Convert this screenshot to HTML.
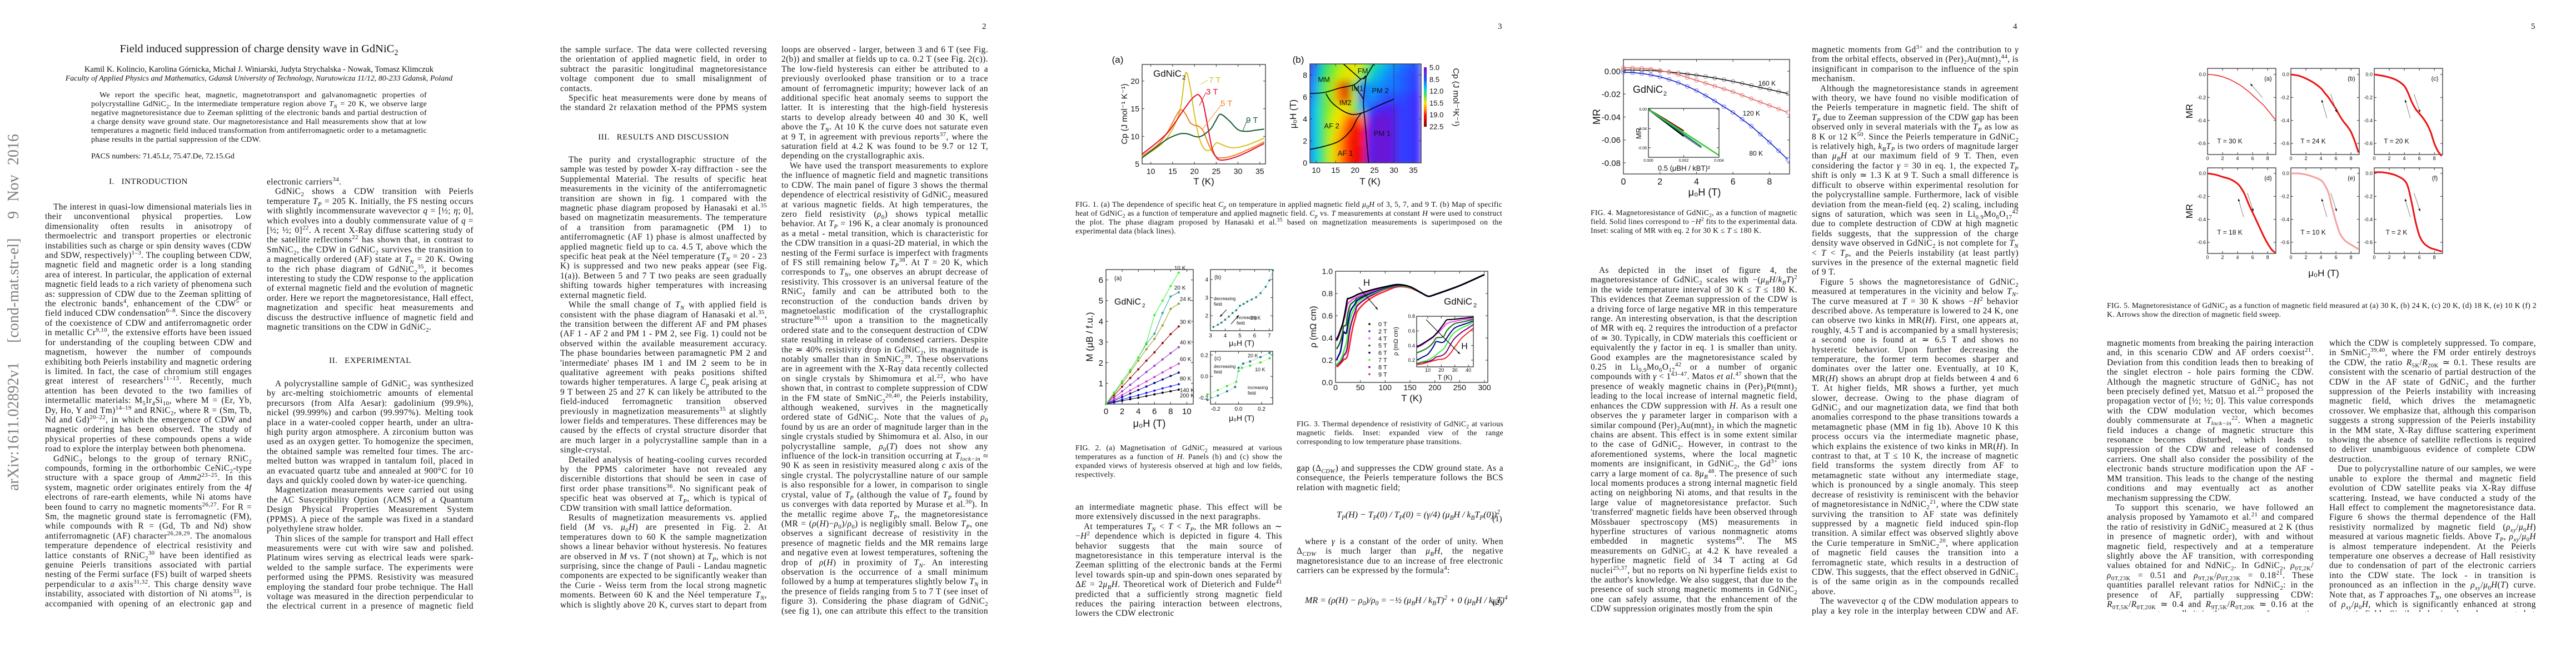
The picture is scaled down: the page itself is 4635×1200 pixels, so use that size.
<!DOCTYPE html>
<html lang="en"><head><meta charset="utf-8">
<style>
html,body{margin:0;padding:0;background:#fff;}
body{width:4635px;height:1200px;position:relative;overflow:hidden;font-family:"Liberation Serif",serif;color:#111;}
.abs{position:absolute;}
.col{position:absolute;width:372px;font-size:15.3px;letter-spacing:0.45px;line-height:17.4px;text-align:justify;overflow:hidden;}
.col p{margin:0;text-indent:15px;}
.col p.ni{text-indent:0;}
sup,sub{font-size:70%;line-height:0;}
.hd{position:absolute;width:372px;text-align:center;font-size:15px;letter-spacing:0.5px;}
.cap{position:absolute;font-size:13.6px;letter-spacing:0.3px;line-height:15.9px;text-align:justify;overflow:hidden;}
.pn{position:absolute;top:40px;font-size:15px;}
.eq{position:absolute;font-size:16px;font-style:italic;white-space:nowrap;}
svg text{font-family:"Liberation Sans",sans-serif;}
</style></head><body>

<div class="abs" style="left:-296px;top:546px;width:642px;height:32px;transform:rotate(-90deg);font-size:28px;line-height:32px;color:#808080;text-align:justify;text-align-last:justify;white-space:nowrap;">arXiv:1611.02892v1&nbsp; [cond-mat.str-el]&nbsp; 9 Nov 2016</div>

<div class="abs" style="left:0;width:932px;top:77px;text-align:center;font-size:20.5px;">Field induced suppression of charge density wave in GdNiC<sub>2</sub></div>
<div class="abs" style="left:0;width:932px;top:117px;text-align:center;font-size:14.5px;">Kamil K. Kolincio, Karolina Górnicka, Michał J. Winiarski, Judyta Strychalska - Nowak, Tomasz Klimczuk</div>
<div class="abs" style="left:0;width:932px;top:134px;text-align:center;font-size:14px;font-style:italic;">Faculty of Applied Physics and Mathematics, Gdansk University of Technology, Narutowicza 11/12, 80-233 Gdansk, Poland</div>
<div class="abs" style="left:164px;width:604px;top:164px;font-size:14px;letter-spacing:0.3px;line-height:16px;text-align:justify;text-indent:15px;">We report the specific heat, magnetic, magnetotransport and galvanomagnetic properties of polycrystalline GdNiC<sub>2</sub>. In the intermediate temperature region above <i>T<sub>N</sub></i> = 20 K, we observe large negative magnetoresistance due to Zeeman splitting of the electronic bands and partial destruction of a charge density wave ground state. Our magnetoresistance and Hall measurements show that at low temperatures a magnetic field induced transformation from antiferromagnetic order to a metamagnetic phase results in the partial suppression of the CDW.</div>
<div class="abs" style="left:164px;top:274px;font-size:14px;">PACS numbers: 71.45.Lr, 75.47.De, 72.15.Gd</div>

<div class="hd" style="left:81px;top:319px;">I.&nbsp;&nbsp; INTRODUCTION</div>
<div class="col" style="left:81px;top:364px;height:731px;">
<p>The interest in quasi-low dimensional materials lies in their unconventional physical properties. Low dimensionality often results in anisotropy of thermoelectric and transport properties or electronic instabilities such as charge or spin density waves (CDW and SDW, respectively)<sup>1–3</sup>. The coupling between CDW, magnetic field and magnetic order is a long standing area of interest. In particular, the application of external magnetic field leads to a rich variety of phenomena such as: suppression of CDW due to the Zeeman splitting of the electronic bands<sup>4</sup>, enhancement of the CDW<sup>5</sup> or field induced CDW condensation<sup>6–8</sup>. Since the discovery of the coexistence of CDW and antiferromagnetic order in metallic Cr<sup>9,10</sup>, the extensive efforts have been issued for understanding of the coupling between CDW and magnetism, however the number of compounds exhibiting both Peierls instability and magnetic ordering is limited. In fact, the case of chromium still engages great interest of researchers<sup>11–13</sup>. Recently, much attention has been devoted to the two families of intermetallic materials: M<sub>5</sub>Ir<sub>4</sub>Si<sub>10</sub>, where M = (Er, Yb, Dy, Ho, Y and Tm)<sup>14–19</sup> and RNiC<sub>2</sub>, where R = (Sm, Tb, Nd and Gd)<sup>20–22</sup>, in which the emergence of CDW and magnetic ordering has been observed. The study of physical properties of these compounds opens a wide road to explore the interplay between both phenomena.</p>
<p>GdNiC<sub>2</sub> belongs to the group of ternary RNiC<sub>2</sub> compounds, forming in the orthorhombic CeNiC<sub>2</sub>-type structure with a space group of <i>Amm2</i><sup>23–25</sup>. In this system, magnetic order originates entirely from the 4<i>f</i> electrons of rare-earth elements, while Ni atoms have been found to carry no magnetic moments<sup>26,27</sup>. For R = Sm, the magnetic ground state is ferromagnetic (FM), while compounds with R = (Gd, Tb and Nd) show antiferromagnetic (AF) character<sup>26,28,29</sup>. The anomalous temperature dependence of electrical resistivity and lattice constants of RNiC<sub>2</sub><sup>30</sup> have been identified as genuine Peierls transitions associated with partial nesting of the Fermi surface (FS) built of warped sheets perpendicular to <i>a</i> axis<sup>31,32</sup>. This charge density wave instability, associated with distortion of Ni atoms<sup>33</sup>, is accompanied with opening of an electronic gap and condensation of a certain portion of</p></div>

<div class="col" style="left:480px;top:319px;height:279px;">
<p class="ni">electronic carriers<sup>34</sup>.</p>
<p>GdNiC<sub>2</sub> shows a CDW transition with Peierls temperature <i>T<sub>P</sub></i> = 205 K. Initially, the FS nesting occurs with slightly incommensurate wavevector <i>q</i> = [½; <i>η</i>; 0], which evolves into a doubly commensurate value of <i>q</i> = [½; ½; 0]<sup>22</sup>. A recent X-Ray diffuse scattering study of the satellite reflections<sup>22</sup> has shown that, in contrast to SmNiC<sub>2</sub>, the CDW in GdNiC<sub>2</sub> survives the transition to a magnetically ordered (AF) state at <i>T<sub>N</sub></i> = 20 K. Owing to the rich phase diagram of GdNiC<sub>2</sub><sup>35</sup>, it becomes interesting to study the CDW response to the application of external magnetic field and the evolution of magnetic order. Here we report the magnetoresistance, Hall effect, magnetization and specific heat measurements and discuss the destructive influence of magnetic field and magnetic transitions on the CDW in GdNiC<sub>2</sub>.</p></div>
<div class="hd" style="left:480px;top:641px;">II.&nbsp;&nbsp; EXPERIMENTAL</div>
<div class="col" style="left:480px;top:682px;height:418px;">
<p>A polycrystalline sample of GdNiC<sub>2</sub> was synthesized by arc-melting stoichiometric amounts of elemental precursors (from Alfa Aesar): gadolinium (99.9%), nickel (99.999%) and carbon (99.997%). Melting took place in a water-cooled copper hearth, under an ultra-high purity argon atmosphere. A zirconium button was used as an oxygen getter. To homogenize the specimen, the obtained sample was remelted four times. The arc-melted button was wrapped in tantalum foil, placed in an evacuated quartz tube and annealed at 900°C for 10 days and quickly cooled down by water-ice quenching.</p>
<p>Magnetization measurements were carried out using the AC Susceptibility Option (ACMS) of a Quantum Design Physical Properties Measurement System (PPMS). A piece of the sample was fixed in a standard polyethylene straw holder.</p>
<p>Thin slices of the sample for transport and Hall effect measurements were cut with wire saw and polished. Platinum wires serving as electrical leads were spark-welded to the sample surface. The experiments were performed using the PPMS. Resistivity was measured employing the standard four probe technique. The Hall voltage was measured in the direction perpendicular to the electrical current in a presence of magnetic field perpendicular to</p></div>

<!-- PAGE 2 -->
<div class="pn" style="left:1767px;">2</div>
<div class="col" style="left:1008px;top:81px;height:122px;">
<p class="ni">the sample surface. The data were collected reversing the orientation of applied magnetic field, in order to subtract the parasitic longitudinal magnetoresistance voltage component due to small misalignment of contacts.</p>
<p>Specific heat measurements were done by means of the standard 2<i>τ</i> relaxation method of the PPMS system on a flat polished sample (approx. 4.5 mg).</p></div>
<div class="hd" style="left:1008px;top:239px;">III.&nbsp;&nbsp; RESULTS AND DISCUSSION</div>
<div class="col" style="left:1008px;top:279px;height:818px;">
<p>The purity and crystallographic structure of the sample was tested by powder X-ray diffraction - see the Supplemental Material. The results of specific heat measurements in the vicinity of the antiferromagnetic transition are shown in fig. 1 compared with the magnetic phase diagram proposed by Hanasaki et al.<sup>35</sup> based on magnetizatin measurements. The temperature of a transition from paramagnetic (PM 1) to antiferromagnetic (AF 1) phase is almost unaffected by applied magnetic field up to ca. 4.5 T, above which the specific heat peak at the Néel temperature (<i>T<sub>N</sub></i> = 20 - 23 K) is suppressed and two new peaks appear (see Fig. 1(a)). Between 5 and 7 T two peaks are seen gradually shifting towards higher temperatures with increasing external magnetic field.</p>
<p>While the small change of <i>T<sub>N</sub></i> with applied field is consistent with the phase diagram of Hanasaki et al.<sup>35</sup>, the transition between the different AF and PM phases (AF 1 - AF 2 and PM 1 - PM 2, see Fig. 1) could not be observed within the available measurement accuracy. The phase boundaries between paramagnetic PM 2 and 'intermediate' phases IM 1 and IM 2 seem to be in qualitative agreement with peaks positions shifted towards higher temperatures. A large <i>C<sub>p</sub></i> peak arising at 9 T between 25 and 27 K can likely be attributed to the field-induced ferromagnetic transition observed previously in magnetization measurements<sup>35</sup> at slightly lower fields and temperatures. These differences may be caused by the effects of crystal structure disorder that are much larger in a polycrystalline sample than in a single-crystal.</p>
<p>Detailed analysis of heating-cooling curves recorded by the PPMS calorimeter have not revealed any discernible distortions that should be seen in case of first order phase transitions<sup>36</sup>. No significant peak of specific heat was observed at <i>T<sub>P</sub></i>, which is typical of CDW transition with small lattice deformation.</p>
<p>Results of magnetization measurements vs. applied field (<i>M</i> vs. <i>μ</i><sub>0</sub><i>H</i>) are presented in Fig. 2. At temperatures down to 60 K the sample magnetization shows a linear behavior without hysteresis. No features are observed in <i>M</i> vs. <i>T</i> (not shown) at <i>T<sub>P</sub></i>, which is not surprising, since the change of Pauli - Landau magnetic components are expected to be significantly weaker than the Curie - Weiss term from the local strong magnetic moments. Between 60 K and the Néel temperature <i>T<sub>N</sub></i>, which is slightly above 20 K, curves start to depart from linearity and a small hysteresis loop is formed between approximately 4 and 8 T. Below the <i>T<sub>N</sub></i> two hysteresis</p></div>
<div class="col" style="left:1406px;top:81px;height:1027px;">
<p class="ni">loops are observed - larger, between 3 and 6 T (see Fig. 2(b)) and smaller at fields up to ca. 0.2 T (see Fig. 2(c)). The low-field hysteresis can either be attributed to a previously overlooked phase transition or to a trace amount of ferromagnetic impurity; however lack of an additional specific heat anomaly seems to support the latter. It is interesting that the high-field hysteresis starts to develop already between 40 and 30 K, well above the <i>T<sub>N</sub></i>. At 10 K the curve does not saturate even at 9 T, in agreement with previous reports<sup>37</sup>, where the saturation field at 4.2 K was found to be 9.7 or 12 T, depending on the crystallographic axis.</p>
<p>We have used the transport measurements to explore the influence of magnetic field and magnetic transitions to CDW. The main panel of figure 3 shows the thermal dependence of electrical resistivity of GdNiC<sub>2</sub> measured at various magnetic fields. At high temperatures, the zero field resistivity (<i>ρ</i><sub>0</sub>) shows typical metallic behavior. At <i>T<sub>P</sub></i> = 196 K, a clear anomaly is pronounced as a metal - metal transition, which is characteristic for the CDW transition in a quasi-2D material, in which the nesting of the Fermi surface is imperfect with fragments of FS still remaining below <i>T<sub>P</sub></i><sup>38</sup>. At <i>T</i> = 20 K, which corresponds to <i>T<sub>N</sub></i>, one observes an abrupt decrease of resistivity. This crossover is an universal feature of the RNiC<sub>2</sub> family and can be attributed both to the reconstruction of the conduction bands driven by magnetoelastic modification of the crystallographic structure<sup>30,31</sup> upon a transition to the magnetically ordered state and to the consequent destruction of CDW state resulting in release of condensed carriers. Despite the ≃ 40% resistivity drop in GdNiC<sub>2</sub>, its magnitude is notably smaller than in SmNiC<sub>2</sub><sup>39</sup>. These observations are in agreement with the X-Ray data recently collected on single crystals by Shimomura et al.<sup>22</sup>, who have shown that, in contrast to complete suppression of CDW in the FM state of SmNiC<sub>2</sub><sup>20,40</sup>, the Peierls instability, although weakened, survives in the magnetically ordered state of GdNiC<sub>2</sub>. Note that the values of <i>ρ</i><sub>0</sub> found by us are an order of magnitude larger than in the single crystals studied by Shimomura et al. Also, in our polycrystalline sample, <i>ρ</i><sub>0</sub>(<i>T</i>) does not show any influence of the lock-in transition occurring at <i>T<sub>lock−in</sub></i> ≈ 90 K as seen in resistivity measured along <i>c</i> axis of the single crystal. The polycrystalline nature of our sample is also responsible for a lower, in comparison to single crystal, value of <i>T<sub>P</sub></i> (although the value of <i>T<sub>P</sub></i> found by us converges with data reported by Murase et al.<sup>30</sup>). In the metallic regime above <i>T<sub>P</sub></i>, the magnetoresistance (MR = (<i>ρ</i>(<i>H</i>)−<i>ρ</i><sub>0</sub>)/<i>ρ</i><sub>0</sub>) is negligibly small. Below <i>T<sub>P</sub></i>, one observes a significant decrease of resistivity in the presence of magnetic fields and the MR remains large and negative even at lowest temperatures, softening the drop of <i>ρ</i>(<i>H</i>) in proximity of <i>T<sub>N</sub></i>. An interesting observation is the occurrence of a small minimum followed by a hump at temperatures slightly below <i>T<sub>N</sub></i> in the presence of fields ranging from 5 to 7 T (see inset of figure 3). Considering the phase diagram of GdNiC<sub>2</sub> (see fig 1), one can attribute this effect to the transition towards</p></div>

<!-- PAGE 3 -->
<div class="pn" style="left:2695px;">3</div>
<div class="cap" style="left:1935px;top:360px;width:768px;height:66px;">FIG. 1. (a) The dependence of specific heat <i>C<sub>p</sub></i> on temperature in applied magnetic field <i>μ</i><sub>0</sub><i>H</i> of 3, 5, 7, and 9 T. (b) Map of specific heat of GdNiC<sub>2</sub> as a function of temperature and applied magnetic field. <i>C<sub>p</sub></i> vs. <i>T</i> measurements at constant <i>H</i> were used to construct the plot. The phase diagram proposed by Hanasaki et al.<sup>35</sup> based on magnetization measurements is superimposed on the experimental data (black lines).</div>
<div class="cap" style="left:1935px;top:798px;width:372px;height:66px;">FIG. 2. (a) Magnetisation of GdNiC<sub>2</sub> measured at various temperatures as a function of <i>H</i>. Panels (b) and (c) show the expanded views of hysteresis observed at high and low fields, respectively.</div>
<div class="col" style="left:1935px;top:904px;height:210px;">
<p class="ni">an intermediate magnetic phase. This effect will be more extensively discussed in the next paragraphs.</p>
<p>At temperatures <i>T<sub>N</sub></i> &lt; <i>T</i> &lt; <i>T<sub>P</sub></i>, the MR follows an ∼ −<i>H</i><sup>2</sup> dependence which is depicted in figure 4. This behavior suggests that the main source of magnetoresistance in this temperature interval is the Zeeman splitting of the electronic bands at the Fermi level towards spin-up and spin-down ones separated by Δ<i>E</i> = 2<i>μ<sub>B</sub>H</i>. Theoretical work of Dieterich and Fulde<sup>41</sup> predicted that a sufficiently strong magnetic field reduces the pairing interaction between electrons, lowers the CDW electronic</p></div>
<div class="cap" style="left:2333px;top:755px;width:372px;height:50px;">FIG. 3. Thermal dependence of resistivity of GdNiC<sub>2</sub> at various magnetic fields. Inset: expanded view of the range corresponding to low temperature phase transitions.</div>
<div class="col" style="left:2333px;top:834px;height:53px;">
<p class="ni">gap (Δ<i><sub>CDW</sub></i>) and suppresses the CDW ground state. As a consequence, the Peierls temperature follows the BCS relation with magnetic field;</p></div>
<div class="eq" style="left:2405px;top:918px;">T<sub>P</sub>(H) − T<sub>P</sub>(0) / T<sub>P</sub>(0) = (γ/4) (μ<sub>B</sub>H / k<sub>B</sub>T<sub>P</sub>(0))<sup>2</sup></div>
<div class="abs" style="left:2685px;top:926px;font-size:15px;">(1)</div>
<div class="col" style="left:2333px;top:966px;height:70px;">
<p>where <i>γ</i> is a constant of the order of unity. When Δ<i><sub>CDW</sub></i> is much larger than <i>μ<sub>B</sub>H</i>, the negative magnetoresistance due to an increase of free electronic carriers can be expressed by the formula<sup>4</sup>:</p></div>
<div class="eq" style="left:2348px;top:1072px;">MR = (ρ(H) − ρ<sub>0</sub>)/ρ<sub>0</sub> = −½ (μ<sub>B</sub>H / k<sub>B</sub>T)<sup>2</sup> + 0 (μ<sub>B</sub>H / k<sub>B</sub>T)<sup>4</sup></div>
<div class="abs" style="left:2685px;top:1076px;font-size:15px;">(2)</div>

<!-- PAGE 4 -->
<div class="pn" style="left:3622px;">4</div>
<div class="cap" style="left:2862px;top:375px;width:372px;height:66px;">FIG. 4. Magnetoresistance of GdNiC<sub>2</sub>, as a function of magnetic field. Solid lines correspond to −<i>H</i><sup>2</sup> fits to the experimental data. Inset: scaling of MR with eq. 2 for 30 K ≤ <i>T</i> ≤ 180 K.</div>
<div class="col" style="left:2862px;top:478px;height:627px;">
<p>As depicted in the inset of figure 4, the magnetoresistance of GdNiC<sub>2</sub> scales with −(<i>μ<sub>B</sub>H</i>/<i>k<sub>B</sub>T</i>)<sup>2</sup> in the wide temperature interval of 30 K ≤ <i>T</i> ≤ 180 K. This evidences that Zeeman suppression of the CDW is a driving force of large negative MR in this temperature range. An interesting observation, is that the description of MR with eq. 2 requires the introduction of a prefactor of ≃ 30. Typically, in CDW materials this coefficient or equivalently the <i>γ</i> factor in eq. 1 is smaller than unity. Good examples are the magnetoresistance scaled by 0.25 in Li<sub>0.9</sub>Mo<sub>6</sub>O<sub>17</sub><sup>42</sup> or a number of organic compounds with <i>γ</i> &lt; 1<sup>43–47</sup>. Matos <i>et al.</i><sup>47</sup> shown that the presence of weakly magnetic chains in (Per)<sub>2</sub>Pt(mnt)<sub>2</sub> leading to the local increase of internal magnetic field, enhances the CDW suppression with <i>H</i>. As a result one observes the <i>γ</i> parameter larger in comparison with a similar compound (Per)<sub>2</sub>Au(mnt)<sub>2</sub> in which the magnetic chains are absent. This effect is in some extent similar to the case of GdNiC<sub>2</sub>. However, in contrast to the aforementioned systems, where the local magnetic moments are insignificant, in GdNiC<sub>2</sub>, the Gd<sup>3+</sup> ions carry a large moment of ca. 8<i>μ<sub>B</sub></i><sup>48</sup>. The presence of such local moments produces a strong internal magnetic field acting on neighboring Ni atoms, and that results in the large value of magnetoresistance prefactor. Such 'transferred' magnetic fields have been observed through Mössbauer spectroscopy (MS) measurements in hyperfine structures of various nonmagnetic atoms embedded in magnetic systems<sup>49</sup>. The MS measurements on GdNiC<sub>2</sub> at 4.2 K have revealed a hyperfine magnetic field of 34 T acting at Gd nuclei<sup>25,37</sup>, but no reports on Ni hyperfine fields exist to the author's knowledge. We also suggest, that due to the presence of such strong magnetic moments in GdNiC<sub>2</sub> one can safely assume, that the enhancement of the CDW suppression originates mostly from the spin</p></div>
<div class="col" style="left:3260px;top:81px;height:1027px;">
<p class="ni">magnetic moments from Gd<sup>3+</sup> and the contribution to <i>γ</i> from the orbital effects, observed in (Per)<sub>2</sub>Au(mnt)<sub>2</sub><sup>44</sup>, is insignificant in comparison to the influence of the spin mechanism.</p>
<p>Although the magnetoresistance stands in agreement with theory, we have found no visible modification of the Peierls temperature in magnetic field. The shift of <i>T<sub>P</sub></i> due to Zeeman suppression of the CDW gap has been observed only in several materials with the <i>T<sub>P</sub></i> as low as 8 K or 12 K<sup>50</sup>. Since the Peierls temperature in GdNiC<sub>2</sub> is relatively high, <i>k<sub>B</sub>T<sub>P</sub></i> is two orders of magnitude larger than <i>μ<sub>B</sub>H</i> at our maximum field of 9 T. Then, even considering the factor <i>γ</i> = 30 in eq. 1, the expected <i>T<sub>P</sub></i> shift is only ≃ 1.3 K at 9 T. Such a small difference is difficult to observe within experimental resolution for the polycrystalline sample. Furthermore, lack of visible deviation from the mean-field (eq. 2) scaling, including signs of saturation, which was seen in Li<sub>0.9</sub>Mo<sub>6</sub>O<sub>17</sub><sup>42</sup> due to complete destruction of CDW at high magnetic fields suggests, that the suppression of the charge density wave observed in GdNiC<sub>2</sub> is not complete for <i>T<sub>N</sub></i> &lt; <i>T</i> &lt; <i>T<sub>P</sub></i>, and the Peierls instability (at least partly) survives in the presence of the external magnetic field of 9 T.</p>
<p>Figure 5 shows the magnetoresistance of GdNiC<sub>2</sub> measured at temperatures in the vicinity and below <i>T<sub>N</sub></i>. The curve measured at <i>T</i> = 30 K shows −<i>H</i><sup>2</sup> behavior described above. As temperature is lowered to 24 K, one can observe two kinks in MR(<i>H</i>). First, one appears at, roughly, 4.5 T and is accompanied by a small hysteresis; a second one is found at ≃ 6.5 T and shows no hysteretic behavior. Upon further decreasing the temperature, the former term becomes sharper and dominates over the latter one. Eventually, at 10 K, MR(<i>H</i>) shows an abrupt drop at fields between 4 and 6 T. At higher fields, MR shows a further, yet much slower, decrease. Owing to the phase diagram of GdNiC<sub>2</sub> and our magnetization data, we find that both anomalies correspond to the phase transitions towards a metamagnetic phase (MM in fig 1b). Above 10 K this process occurs via the intermediate magnetic phase, which explains the existence of two kinks in MR(<i>H</i>). In contrast to that, at T ≤ 10 K, the increase of magnetic field transforms the system directly from AF to metamagnetic state without any intermediate stage, which is pronounced by a single anomaly. This steep decrease of resistivity is reminiscent with the behavior of magnetoresistance in NdNiC<sub>2</sub><sup>21</sup>, where the CDW state surviving the transition to AF state was definitely suppressed by a magnetic field induced spin-flop transition. A similar effect was observed slightly above the Curie temperature in SmNiC<sub>2</sub><sup>20</sup>, where application of magnetic field causes the transition into a ferromagnetic state, which results in a destruction of CDW. This suggests, that the effect observed in GdNiC<sub>2</sub> is of the same origin as in the compounds recalled above.</p>
<p>The wavevector <i>q</i> of the CDW modulation appears to play a key role in the interplay between CDW and AF. Agreement between <i>q</i> and the magnetic propagation vector leads to a sort of resonance, which prevents the local</p></div>

<!-- PAGE 5 -->
<div class="pn" style="left:4554px;">5</div>
<div class="cap" style="left:3791px;top:542px;width:773px;height:34px;">FIG. 5. Magnetoresistance of GdNiC<sub>2</sub> as a function of magnetic field measured at (a) 30 K, (b) 24 K, (c) 20 K, (d) 18 K, (e) 10 K (f) 2 K. Arrows show the direction of magnetic field sweep.</div>
<div class="col" style="left:3791px;top:609px;height:492px;">
<p class="ni">magnetic moments from breaking the pairing interaction and, in this scenario CDW and AF orders coexist<sup>21</sup>. Deviation from this condition leads then to breaking of the singlet electron - hole pairs forming the CDW. Although the magnetic structure of GdNiC<sub>2</sub> has not been precisely defined yet, Matsuo et al.<sup>25</sup> proposed the propagation vector of [½; ½; 0]. This value corresponds with the CDW modulation vector, which becomes doubly commensurate at <i>T<sub>lock−in</sub></i><sup>22</sup>. When a magnetic field induces a change of magnetic structure this resonance becomes disturbed, which leads to suppression of the CDW and release of condensed carriers. One shall also consider the possibility of the electronic bands structure modification upon the AF - MM transition. This leads to the change of the nesting conditions and may eventually act as another mechanism suppressing the CDW.</p>
<p>To support this scenario, we have followed an analysis proposed by Yamamoto et al.<sup>21</sup> and compared the ratio of resistivity in GdNiC<sub>2</sub> measured at 2 K (thus in presence of magnetic order), with and without magnetic field, respectively and at a temperature slightly above the AF transition, with corresponding values obtained for and NdNiC<sub>2</sub>. In GdNiC<sub>2</sub>, <i>ρ</i><sub>0T,2K</sub>/<i>ρ</i><sub>0T,23K</sub> = 0.51 and <i>ρ</i><sub>9T,2K</sub>/<i>ρ</i><sub>0T,23K</sub> = 0.18<sup>21</sup>. These quantities parallel relevant ratios for NdNiC<sub>2</sub>: in the presence of AF, partially suppressing CDW: <i>R</i><sub>0T,5K</sub>/<i>R</i><sub>0T,20K</sub> ≃ 0.4 and <i>R</i><sub>9T,5K</sub>/<i>R</i><sub>0T,20K</sub> ≃ 0.16 at the same temperature, albeit in the presence of a magnetic field in</p></div>
<div class="col" style="left:4191px;top:609px;height:492px;">
<p class="ni">which the CDW is completely suppressed. To compare, in SmNiC<sub>2</sub><sup>39,40</sup>, where the FM order entirely destroys the CDW, the ratio <i>R</i><sub>5K</sub>/<i>R</i><sub>20K</sub> ≃ 0.1. These results are consistent with the scenario of partial destruction of the CDW in the AF state of GdNiC<sub>2</sub> and the further suppression of the Peierls instability with increasing magnetic field, which drives the metamagnetic crossover. We emphasize that, although this comparison suggests a strong suppression of the Peierls instability in the MM state, X-Ray diffuse scattering experiment showing the absence of satellite reflections is required to deliver unambiguous evidence of complete CDW destruction.</p>
<p>Due to polycrystalline nature of our samples, we were unable to explore the thermal and magnetic field evolution of CDW satellite peaks via X-Ray diffuse scattering. Instead, we have conducted a study of the Hall effect to complement the magnetoresistance data. Figure 6 shows the thermal dependence of the Hall resistivity normalized by magnetic field (<i>ρ<sub>xy</sub></i>/<i>μ</i><sub>0</sub><i>H</i>) measured at various magnetic fields. Above <i>T<sub>P</sub></i>, <i>ρ<sub>xy</sub></i>/<i>μ</i><sub>0</sub><i>H</i> is almost temperature independent. At the Peierls temperature one observes a decrease of Hall resistivity due to condensation of part of the electronic carriers into the CDW state. The lock - in transition is pronounced as an inflection in the <i>ρ<sub>xy</sub></i>/<i>μ</i><sub>0</sub><i>H</i>(<i>T</i>) curve. Note that, as <i>T</i> approaches <i>T<sub>N</sub></i>, one observes an increase of <i>ρ<sub>xy</sub></i>/<i>μ</i><sub>0</sub><i>H</i>, which is significantly enhanced at strong magnetic fields. Similar behaviors have been reported at</p></div>

<svg id="charts" class="abs" style="left:0;top:0" width="4635" height="1200" xmlns="http://www.w3.org/2000/svg">
<defs>
<filter id="blur" x="-5%" y="-5%" width="110%" height="110%"><feGaussianBlur stdDeviation="7"/></filter>
<clipPath id="clip1b"><rect x="2357" y="115" width="200" height="178"/></clipPath>
<linearGradient id="cbar" x1="0" y1="0" x2="0" y2="1">
<stop offset="0" stop-color="#7a10c8"/><stop offset="0.2" stop-color="#2050ff"/><stop offset="0.38" stop-color="#00d8e0"/><stop offset="0.45" stop-color="#30e060"/><stop offset="0.6" stop-color="#ffe000"/><stop offset="0.72" stop-color="#ff8000"/><stop offset="0.8" stop-color="#ff1000"/><stop offset="1" stop-color="#8a0000"/></linearGradient>
</defs>
</svg>

<script>
// ---------- DATA ----------
const fig1aT = [8,10,12,14,16,17,18,19,20,21,22,23,24,25,26,28,30,32,34,36];
const fig1aCp3T = [6.8,8.0,9.3,10.8,13.0,14.2,15.3,16.4,17.2,17.5,16.0,12.0,8.0,6.2,5.7,5.9,6.4,7.1,7.9,8.7];
const fig1aCp5T = [6.5,7.5,8.8,11.0,14.0,14.8,14.0,12.5,12.0,11.8,11.0,9.0,7.3,6.3,6.1,6.3,6.8,7.5,8.2,9.0];
const fig1aCp7T = [6.3,7.2,8.3,10.0,13.0,16.0,21.5,19.0,14.0,10.0,8.0,7.4,7.8,8.8,8.6,8.0,8.0,8.4,9.0,9.7];
const fig1aCp9T = [6.1,7.3,8.5,9.6,10.3,10.5,10.5,10.3,10.0,9.9,10.2,10.8,11.6,13.0,14.0,12.8,11.2,10.9,11.1,11.3];
const fig1aXTicks = [10,15,20,25,30,35];
const fig1aYTicks = [5,10,15,20];

const mapT = [8,10,12,14,16,18,20,22,24,26,28,30,32,34,36];
const mapH = [0,1,2,3,4,5,6,7,8,9];
const mapCpH0 = [8.5,10.5,12.5,14.5,16.5,18.5,19.5,19.5,6.5,5.5,5.5,6,7.5,7.5,7];
const mapCpH1 = [8.5,10.5,12.5,14.5,16.5,18.5,19.5,19.5,6.5,5.5,5.5,6,7.5,7.5,7];
const mapCpH2 = [8.5,10.5,12.5,14.5,16.5,18.5,19.5,19,6.5,5.5,5.5,6,7.5,7.5,7];
const mapCpH3 = [8.5,10.5,12.5,14,16,18,19.5,19,6.5,5.5,5.5,6,7.5,7.5,7];
const mapCpH4 = [8.5,10.5,12.5,14,15.5,17,19,17,6.5,5.5,5.5,6,7.5,7.5,7];
const mapCpH5 = [8.5,10.5,12.5,13.5,15,15,13,10,8,7,6.5,6.5,7.5,7.5,7];
const mapCpH6 = [8,10,12.5,13.5,17,20,14,8,9.5,9,8,8,8,7.5,7];
const mapCpH7 = [7.5,10,12.5,13.5,17,21,13,9,9.5,9.5,9,9,8.5,8,7.5];
const mapCpH8 = [7,9.5,12,13,14,15,15,13,11,10,9.5,9,8.5,8,7.5];
const mapCpH9 = [6.5,9,11.5,12.5,13.5,14.5,15,14,12,11,10,9.5,9,8.5,8];
const mapXTicks = [10,15,20,25,30,35];
const mapYTicks = [0,2,4,6,8];
const cbarLabels = ["5.0","8.5","12.0","15.5","19.0","22.5"];
const phaseLineAF = [[8,1.2],[12,1.5],[16,2.0],[19,3.0],[20.5,4.0],[21.8,4.6]];
const phaseLineV = [[23.5,0],[23,2],[22.5,4],[22.3,4.6],[22.2,5.8],[22.8,7.8],[22.2,7.6]];
const phaseLineIM1 = [[19.7,7.1],[22.2,5.8]];
const phaseLineMM = [[8,6.3],[12,6.4],[16,6.8],[19.7,7.1],[21.5,7.6],[22.8,7.8]];
const phaseLineFML = [[17,9],[21.5,7.6]];
const phaseLineFMR = [[22.8,7.8],[24.8,9]];
const phaseLineIM2 = [[12.5,6.3],[14,5.5],[17,4.7],[19.5,4.4],[22.3,4.6],[26,5.2],[30,5.8]];
const phaseLabels = ["FM","MM","IM1","PM 2","IM2","AF 2","PM 1","AF 1"];
const phaseLabelT = [22,12,20.6,26.5,17.5,14,27,17.5];
const phaseLabelH = [8.4,7.6,6.8,6.6,5.5,3.4,2.7,0.9];

const fig2H = [0,1,2,3,4,5,6,7,8,9];
const fig2Temps = ["200 K","140 K","80 K","60 K","40 K","30 K","24 K","20 K","10 K"];
const fig2M200 = [0,0.08,0.16,0.24,0.31,0.39,0.47,0.55,0.62,0.70];
const fig2M140 = [0,0.11,0.22,0.33,0.43,0.54,0.65,0.76,0.86,0.96];
const fig2M80 = [0,0.17,0.34,0.51,0.68,0.85,1.02,1.19,1.36,1.52];
const fig2M60 = [0,0.22,0.44,0.66,0.88,1.09,1.31,1.53,1.75,1.95];
const fig2M40 = [0,0.31,0.62,0.93,1.24,1.55,1.85,2.16,2.46,2.75];
const fig2M30 = [0,0.42,0.84,1.26,1.68,2.1,2.5,2.95,3.38,3.75];
const fig2M24 = [0,0.5,1.0,1.55,2.1,2.65,3.15,3.8,4.6,4.85];
const fig2M20 = [0,0.55,1.1,1.65,2.25,2.9,3.4,4.4,5.2,5.4];
const fig2M10 = [0,0.55,1.1,1.65,2.25,2.95,4.3,5.0,5.7,6.35];
const fig2XTicks = [0,2,4,6,8,10];
const fig2YTicks = [1,2,3,4,5,6];
const fig2bH = [3.2,3.5,3.75,4.0,4.25,4.5,4.75,5.0,5.25,5.5,5.8,6.1,6.4,6.75,7.0,7.25];
const fig2bM = [1.38,1.5,1.62,1.78,1.95,2.15,2.3,2.55,2.65,2.78,2.9,3.02,3.25,3.6,3.95,4.5];
const fig2cH10 = [-0.27,-0.18,-0.1,-0.02,0.0,0.03,0.1,0.19,0.27];
const fig2cM10 = [-0.17,-0.13,-0.09,-0.05,0.05,0.08,0.1,0.13,0.17];
const fig2cH20 = [-0.27,-0.18,-0.1,-0.03,0.0,0.04,0.1,0.19,0.27];
const fig2cM20 = [-0.22,-0.18,-0.14,-0.1,0.08,0.12,0.14,0.18,0.22];

const fig3T = [2,6,10,14,16,18,20,22,24,27,30,35,40,44,60,80,100,125,150,175,187,200,250,300];
const fig3Fields = ["0 T","2 T","4 T","5 T","6 T","7 T","8 T","9 T"];
const fig3R0 = [.38,.42,.47,.52,.56,.60,.65,.70,.75,.755,.76,.77,.78,.79,.815,.84,.86,.88,.86,.80,.775,.79,.87,.97];
const fig3R2 = [.385,.425,.47,.52,.56,.60,.65,.70,.75,.755,.76,.77,.78,.79,.815,.84,.86,.88,.86,.80,.775,.79,.87,.97];
const fig3R4 = [.37,.41,.46,.51,.55,.58,.62,.66,.70,.72,.73,.75,.76,.77,.80,.83,.86,.88,.86,.80,.775,.79,.87,.97];
const fig3R5 = [.30,.33,.37,.44,.50,.51,.51,.53,.60,.66,.70,.72,.74,.76,.79,.83,.855,.88,.86,.80,.775,.79,.87,.97];
const fig3R6 = [.20,.24,.28,.38,.45,.45,.44,.45,.50,.58,.64,.68,.71,.74,.78,.82,.85,.875,.86,.80,.775,.79,.87,.97];
const fig3R7 = [.16,.18,.20,.24,.27,.30,.33,.36,.42,.52,.58,.64,.68,.72,.77,.81,.845,.87,.855,.80,.775,.79,.87,.97];
const fig3R8 = [.15,.17,.18,.21,.24,.25,.26,.28,.32,.42,.50,.58,.64,.69,.75,.80,.84,.865,.855,.80,.775,.79,.87,.97];
const fig3R9 = [.14,.15,.17,.19,.20,.21,.21,.22,.24,.30,.38,.50,.58,.64,.72,.78,.82,.86,.85,.80,.775,.79,.87,.97];
const fig3XTicks = [0,50,100,150,200,250,300];
const fig3YTicks = ["0.0","0.2","0.4","0.6","0.8","1.0"];
const fig3InsetXTicks = [10,20,30,40];
const fig3InsetYTicks = ["0.2","0.4","0.6","0.8"];

const fig4H = [0,0.5,1,1.5,2,2.5,3,3.5,4,4.5,5,5.5,6,6.5,7,7.5,8,8.5,9];
const fig4MR160 = [0.001,0.001,0.0008,0.0005,0.0,-0.0007,-0.0015,-0.0025,-0.0035,-0.0047,-0.006,-0.0074,-0.009,-0.0107,-0.0125,-0.0143,-0.016,-0.0178,-0.0195];
const fig4MR120 = [0.003,0.0028,0.0025,0.0018,0.0005,-0.001,-0.003,-0.0055,-0.008,-0.0105,-0.013,-0.0155,-0.018,-0.021,-0.024,-0.027,-0.030,-0.033,-0.036];
const fig4MR80 = [-0.001,-0.0013,-0.002,-0.0033,-0.005,-0.0073,-0.010,-0.0133,-0.017,-0.0213,-0.026,-0.031,-0.036,-0.042,-0.048,-0.055,-0.062,-0.0695,-0.077];
const fig4XTicks = [0,2,4,6,8];
const fig4YTicks = ["0.00","-0.02","-0.04","-0.06","-0.08"];
const fig4InsetX = [0,0.001,0.002,0.003,0.004];
const fig4InsetGreen = [0,-0.024,-0.048,-0.072,-0.096];
const fig4InsetTeal = [0,-0.026,-0.052,-0.078];
const fig4InsetGray = [0,-0.027,-0.055,-0.08];
const fig4InsetBrown = [0,-0.022,-0.045];
const fig4InsetBlack = [0,-0.028,-0.056];

const fig5H = [0,1,2,3,4,4.5,5,5.5,6,6.5,7,7.5,8,8.5,9];
const fig5MRa = [0,-0.005,-0.02,-0.045,-0.08,-0.1,-0.125,-0.15,-0.18,-0.21,-0.24,-0.27,-0.31,-0.35,-0.39];
const fig5MRb = [0,-0.01,-0.035,-0.07,-0.12,-0.16,-0.2,-0.25,-0.3,-0.36,-0.41,-0.45,-0.5,-0.58,-0.68];
const fig5MRc = [0,-0.01,-0.025,-0.05,-0.1,-0.16,-0.24,-0.3,-0.34,-0.38,-0.43,-0.5,-0.6,-0.67,-0.71];
const fig5MRd = [0,-0.01,-0.03,-0.05,-0.09,-0.13,-0.19,-0.27,-0.34,-0.41,-0.48,-0.55,-0.61,-0.66,-0.69];
const fig5MRe = [0,0,-0.01,-0.03,-0.06,-0.1,-0.17,-0.3,-0.42,-0.52,-0.57,-0.6,-0.62,-0.64,-0.66];
const fig5MRf = [0.01,0.01,0,-0.02,-0.06,-0.12,-0.26,-0.42,-0.54,-0.6,-0.63,-0.65,-0.66,-0.67,-0.68];
const fig5Temps = ["T = 30 K","T = 24 K","T = 20 K","T = 18 K","T = 10 K","T = 2 K"];
const fig5Letters = ["(a)","(b)","(c)","(d)","(e)","(f)"];
const fig5XTicks = [0,2,4,6,8];
const fig5YTicks = ["0.0","-0.2","-0.4","-0.6"];

// ---------- HELPERS ----------
const NS = "http://www.w3.org/2000/svg";
const svg = document.getElementById('charts');
function mk(tag, attrs, parent){ const e = document.createElementNS(NS, tag); for (const k in attrs) e.setAttribute(k, attrs[k]); (parent||svg).appendChild(e); return e; }
function lin(d0,d1,r0,r1){ return v => r0 + (v-d0)*(r1-r0)/(d1-d0); }
function pathD(xs, ys, sx, sy){ return xs.map((x,i)=>(i?'L':'M')+sx(x).toFixed(1)+' '+sy(ys[i]).toFixed(1)).join(' '); }
function smoothD(xs, ys, sx, sy){
  const p = xs.map((x,i)=>[sx(x), sy(ys[i])]);
  let d = 'M'+p[0][0].toFixed(1)+' '+p[0][1].toFixed(1);
  for (let i=0;i<p.length-1;i++){
    const p0=p[Math.max(i-1,0)], p1=p[i], p2=p[i+1], p3=p[Math.min(i+2,p.length-1)];
    const c1=[p1[0]+(p2[0]-p0[0])/6, p1[1]+(p2[1]-p0[1])/6], c2=[p2[0]-(p3[0]-p1[0])/6, p2[1]-(p3[1]-p1[1])/6];
    d += ' C'+c1[0].toFixed(1)+' '+c1[1].toFixed(1)+' '+c2[0].toFixed(1)+' '+c2[1].toFixed(1)+' '+p2[0].toFixed(1)+' '+p2[1].toFixed(1);
  }
  return d;
}
function frame(x0,y0,x1,y1,name){
  const r = mk('rect',{x:x0,y:y0,width:x1-x0,height:y1-y0,fill:'none',stroke:'#333','stroke-width':1.3});
  
  
  return r;
}
function label(x,y,txt,size,anchor,name,extra){
  const t = mk('text',{x:x,y:y,'font-size':size,'text-anchor':anchor||'middle',fill:'#111'});
  if (extra) for (const k in extra) t.setAttribute(k, extra[k]);
  t.textContent = txt;
  
  
  return t;
}
function xAxis(ticks, sx, y0, y1, labY, size, name, fmt){
  ticks.forEach(v=>{
    const l = mk('line',{x1:sx(v),x2:sx(v),y1:y1,y2:y1-4,stroke:'#333'});
    
    
    const l2 = mk('line',{x1:sx(v),x2:sx(v),y1:y0,y2:y0+4,stroke:'#333'});
    
    
    label(sx(v), labY, fmt?fmt(v):String(v), size, 'middle', name+'-label');
  });
}
function yAxis(ticks, sy, x0, x1, labX, size, name){
  ticks.forEach(v=>{
    const n = parseFloat(v);
    const l = mk('line',{x1:x0,x2:x0+4,y1:sy(n),y2:sy(n),stroke:'#333'});
    
    
    const l2 = mk('line',{x1:x1,x2:x1-4,y1:sy(n),y2:sy(n),stroke:'#333'});
    
    
    label(labX, sy(n)+size*0.36, String(v), size, 'end', name+'-label');
  });
}
function curve(d, color, w, name, dash){
  const p = mk('path',{d:d,fill:'none',stroke:color,'stroke-width':w,'stroke-linejoin':'round'});
  if (dash) p.setAttribute('stroke-dasharray', dash);
  
  
  return p;
}
function arrow(x1,y1,x2,y2,name,color,w){
  const l = mk('line',{x1:x1,y1:y1,x2:x2,y2:y2,stroke:color||'#555','stroke-width':w||1});
  
  
  const a = Math.atan2(y2-y1,x2-x1), s=5;
  const h = mk('path',{d:`M${x2} ${y2} L${x2-s*Math.cos(a-0.4)} ${y2-s*Math.sin(a-0.4)} L${x2-s*Math.cos(a+0.4)} ${y2-s*Math.sin(a+0.4)} Z`,fill:'#111'});
  
  
}

// ---------- FIG 1a ----------
(function(){
  const sx = lin(8,36.3,2055,2277), sy = lin(5,23,295,116);
  frame(2055,116,2277,295,'fig1a-plot-frame');
  xAxis(fig1aXTicks, sx, 116, 295, 313, 14, 'fig1a-x-tick');
  yAxis(fig1aYTicks, sy, 2055, 2277, 2050, 14, 'fig1a-y-tick');
  const series = [[fig1aCp7T,'#d8c020','7 T'],[fig1aCp5T,'#f08020','5 T'],[fig1aCp9T,'#105a30','9 T'],[fig1aCp3T,'#e01030','3 T']];
  series.forEach(s=>{ curve(smoothD(fig1aT, s[0], sx, sy), s[1], 2, 'cp-curve-'+s[2].replace(' ','').toLowerCase()); });
  label(2075,138,'GdNiC',17,'start','fig1a-compound-label');
  label(2127,143,'2',11,'start','fig1a-compound-subscript');
  label(2175,149,'7 T',15,'start','legend-label-7t',{fill:'#d8c020'});
  label(2170,170,'3 T',15,'start','legend-label-3t',{fill:'#e01030'});
  label(2196,191,'5 T',15,'start','legend-label-5t',{fill:'#f08020'});
  label(2242,221,'9 T',15,'start','legend-label-9t',{fill:'#105a30'});
  curve('M2173 144 L2160 152','#d8c020',1,'leader-7t');
  curve('M2170 166 L2158 190','#e01030',1,'leader-3t');
  curve('M2198 188 L2164 232','#f08020',1,'leader-5t');
  curve('M2244 216 L2236 236','#105a30',1,'leader-9t');
  label(2166,332,'T (K)',17,'middle','fig1a-x-axis-title');
  label(2028,205,'Cp (J mol⁻¹ K⁻¹)',15,'middle','fig1a-y-axis-title',{transform:'rotate(-90 2028 205)'});
  label(2011,113,'(a)',17,'middle','fig1a-panel-label');
})();

// ---------- FIG 1b heat map ----------
(function(){
  const sx = lin(8.4,37,2357,2557), sy = lin(0,9,293,115);
  const rows = [mapCpH0,mapCpH1,mapCpH2,mapCpH3,mapCpH4,mapCpH5,mapCpH6,mapCpH7,mapCpH8,mapCpH9];
  const stops = [[5,[122,16,200]],[7,[60,40,255]],[9,[20,120,255]],[10.5,[0,210,225]],[12,[40,225,100]],[14,[190,240,0]],[15.5,[255,224,0]],[17,[255,128,0]],[19,[255,20,0]],[22.5,[138,0,0]]];
  function col(v){ for (let i=0;i<stops.length-1;i++){ const a=stops[i],b=stops[i+1]; if (v<=b[0]){ const t=Math.max(0,(v-a[0])/(b[0]-a[0])); return 'rgb('+a[1].map((c,k)=>Math.round(c+(b[1][k]-c)*t)).join(',')+')'; } } return 'rgb(138,0,0)'; }
  const g = mk('g',{'clip-path':'url(#clip1b)'});
  
  
  const gb = mk('g',{filter:'url(#blur)'}, g);
  const cw = sx(10)-sx(8), ch = sy(0)-sy(1);
  rows.forEach((row,ri)=>{ row.forEach((v,ci)=>{
    const r = mk('rect',{x:sx(mapT[ci])-cw/2-1,y:sy(mapH[ri])-ch/2-1,width:cw+2,height:ch+2,fill:col(v)}, gb);
    
    
  });});
  [phaseLineAF,phaseLineV,phaseLineIM1,phaseLineMM,phaseLineFML,phaseLineFMR,phaseLineIM2].forEach((ln,i)=>{
    const p = mk('path',{d:smoothD(ln.map(q=>q[0]), ln.map(q=>q[1]), sx, sy),fill:'none',stroke:'#000','stroke-width':1.6}, g);
    
    
  });
  const dl = mk('line',{x1:sx(30),x2:sx(30),y1:115,y2:293,stroke:'#222','stroke-dasharray':'2 2'}, g);
  
  
  phaseLabels.forEach((t,i)=>{ label(sx(phaseLabelT[i]), sy(phaseLabelH[i])+5, t, 13, 'middle', 'phase-label'); });
  frame(2357,115,2557,293,'fig1b-plot-frame');
  xAxis(mapXTicks, sx, 115, 293, 311, 14, 'fig1b-x-tick');
  yAxis(mapYTicks, sy, 2357, 2557, 2352, 14, 'fig1b-y-tick');
  const cb = mk('rect',{x:2562,y:121,width:5,height:107,fill:'url(#cbar)'});
  
  
  cbarLabels.forEach((t,i)=>{ label(2572, 126+i*21.3, t, 13, 'start', 'colorbar-label'); });
  label(2465,332,'T (K)',17,'middle','fig1b-x-axis-title');
  label(2332,205,'μ₀H (T)',16,'middle','fig1b-y-axis-title',{transform:'rotate(-90 2332 205)'});
  label(2615,175,'Cp (J mol⁻¹K⁻¹)',15,'middle','colorbar-title',{transform:'rotate(90 2615 175)'});
  label(2336,113,'(b)',17,'middle','fig1b-panel-label');
})();

// ---------- FIG 2 ----------
(function(){
  const sx = lin(0,10.8,1990,2147), sy = lin(0,6.5,727,485);
  frame(1990,485,2147,727,'fig2a-plot-frame');
  xAxis(fig2XTicks, sx, 485, 727, 745, 15, 'fig2a-x-tick');
  yAxis(fig2YTicks, sy, 1990, 2147, 1985, 15, 'fig2a-y-tick');
  const series = [[fig2M200,'#000000'],[fig2M140,'#1010ff'],[fig2M80,'#000080'],[fig2M60,'#cc33cc'],[fig2M40,'#9933cc'],[fig2M30,'#990000'],[fig2M24,'#999922'],[fig2M20,'#2a9d9d'],[fig2M10,'#33ee33']];
  series.forEach((s,i)=>{
    curve(pathD(fig2H, s[0], sx, sy), s[1], 1, 'magnetization-line-'+fig2Temps[i].replace(' ','').toLowerCase());
    fig2H.forEach((h,j)=>{
      const c = mk('circle',{cx:sx(h),cy:sy(s[0][j]),r:2,fill:s[1]});
      
      
    });
    label(sx(9)+ (i>=7?-8:2), sy(s[0][9]) + (i<3?14:-5), fig2Temps[i], 10, 'start', 'fig2a-temp-label');
  });
  label(2005,504,'(a)',11,'start','fig2a-panel-label');
  label(2005,548,'GdNiC',16,'start','fig2a-compound-label');
  label(2055,553,'2',10,'start','fig2a-compound-subscript');
  label(2068,768,'μ₀H (T)',18,'middle','fig2a-x-axis-title');
  label(1966,606,'M (μB / f.u.)',17,'middle','fig2a-y-axis-title',{transform:'rotate(-90 1966 606)'});

  const bx = lin(3,7.23,2178,2290), by = lin(1.17,4.55,595,485);
  frame(2178,485,2290,595,'fig2b-plot-frame');
  xAxis([3,4,5,6,7], bx, 485, 595, 607, 10, 'fig2b-x-tick');
  yAxis([2,3,4], by, 2178, 2290, 2174, 10, 'fig2b-y-tick');
  curve(pathD(fig2bH, fig2bM, bx, by), '#8cc', 0.8, 'fig2b-line');
  fig2bH.forEach((h,j)=>{ const c = mk('circle',{cx:bx(h),cy:by(fig2bM[j]),r:1.8,fill:'#1a7a7a'});   });
  label(2185,502,'(b)',10,'start','fig2b-panel-label');
  label(2250,575,'20 K',9,'start','fig2b-temp-label');
  label(2184,540,'decreasing',8,'start','fig2b-decreasing-label');
  label(2184,550,'field',8,'start','fig2b-field-label');
  label(2225,574,'increasing',8,'start','fig2b-increasing-label');
  label(2225,584,'field',8,'start','fig2b-field-label-2');
  arrow(2207,557,2195,570,'fig2b-arrow-decreasing','#222');
  arrow(2215,583,2229,567,'fig2b-arrow-increasing','#222');
  label(2234,622,'μ₀H (T)',14,'middle','fig2b-x-axis-title');

  const cx = lin(-0.244,0.297,2178,2290), cy = lin(-0.26,0.235,727,632);
  frame(2178,632,2290,727,'fig2c-plot-frame');
  xAxis([-0.2,0,0.2], cx, 632, 727, 739, 10, 'fig2c-x-tick', v=>v.toFixed(1));
  yAxis(["-0.2","0.0","0.2"], cy, 2178, 2290, 2174, 10, 'fig2c-y-tick');
  [[fig2cH10,fig2cM10,'#33dd33'],[fig2cH20,fig2cM20,'#1a7a7a']].forEach((s,k)=>{
    curve(pathD(s[0], s[1], cx, cy), k? '#8cc':'#9e9', 0.8, 'fig2c-line');
    s[0].forEach((h,j)=>{ const c = mk('circle',{cx:cx(h),cy:cy(s[1][j]),r:2,fill:s[2]});   });
  });
  label(2185,648,'(c)',10,'start','fig2c-panel-label');
  label(2245,643,'20 K',9,'start','fig2c-temp-20k');
  label(2258,668,'10 K',9,'start','fig2c-temp-10k');
  label(2184,662,'decreasing',8,'start','fig2c-decreasing-label');
  label(2184,672,'field',8,'start','fig2c-field-label');
  label(2245,700,'increasing',8,'start','fig2c-increasing-label');
  label(2245,710,'field',8,'start','fig2c-field-label-2');
  label(2234,757,'μ₀H (T)',14,'middle','fig2c-x-axis-title');
})();

// ---------- FIG 3 ----------
(function(){
  const sx = lin(0,300,2403,2671), sy = lin(0,1,688,488);
  frame(2403,488,2677,688,'fig3-plot-frame');
  xAxis(fig3XTicks, sx, 488, 688, 702, 14, 'fig3-x-tick');
  yAxis(fig3YTicks, sy, 2403, 2677, 2398, 14, 'fig3-y-tick');
  const all = [fig3R0,fig3R2,fig3R4,fig3R5,fig3R6,fig3R7,fig3R8,fig3R9];
  const colors = ['#000000','#2030ff','#ff40ff','#107010','#000090','#40ee40','#800080','#ff2020'];
  for (let k=all.length-1;k>=0;k--) curve(smoothD(fig3T, all[k], sx, sy), colors[k], 2.6, 'resistivity-curve-'+fig3Fields[k].replace(' ','').toLowerCase());
  fig3Fields.forEach((f,i)=>{
    const c = mk('circle',{cx:2464,cy:583+i*12.9,r:1.8,fill:colors[i]});
    
    
    label(2480, 587+i*12.9, f, 11, 'start', 'legend-entry');
  });
  label(2598,548,'GdNiC',17,'start','fig3-compound-label');
  label(2651,553,'2',11,'start','fig3-compound-subscript');
  arrow(2445,517,2479,557,'fig3-field-arrow','#111',1.2);
  label(2459,514,'H',17,'middle','fig3-arrow-label');
  label(2540,722,'T (K)',17,'middle','fig3-x-axis-title');
  label(2368,588,'ρ (mΩ cm)',16,'middle','fig3-y-axis-title',{transform:'rotate(-90 2368 588)'});
  // inset
  const ix = lin(1.8,43.7,2549,2651), iy = lin(0.108,0.8,660,569);
  const bg = mk('rect',{x:2549,y:569,width:102,height:91,fill:'#fff'});
  
  
  const nIn = fig3T.filter(t=>t<=44).length;
  for (let k=all.length-1;k>=0;k--) curve(smoothD(fig3T.slice(0,nIn), all[k].slice(0,nIn), ix, iy), colors[k], 2, 'inset-resistivity-curve');
  frame(2549,569,2651,660,'fig3-inset-frame');
  xAxis(fig3InsetXTicks, ix, 569, 660, 669, 9, 'fig3-inset-x-tick');
  yAxis(fig3InsetYTicks, iy, 2549, 2651, 2546, 9, 'fig3-inset-y-tick');
  arrow(2566,575,2627,637,'fig3-inset-arrow','#111',1.2);
  label(2635,628,'H',16,'middle','fig3-inset-arrow-label');
  label(2515,614,'ρ (mΩ cm)',11,'middle','fig3-inset-y-title',{transform:'rotate(-90 2515 614)'});
  label(2600,683,'T (K)',12,'middle','fig3-inset-x-title');
})();

// ---------- FIG 4 ----------
(function(){
  const sx = lin(0,9.1,2921,3220), sy = lin(0.0102,-0.0897,107,313);
  frame(2921,107,3220,313,'fig4-plot-frame');
  xAxis(fig4XTicks, sx, 107, 313, 332, 16, 'fig4-x-tick');
  yAxis(fig4YTicks, sy, 2921, 3220, 2916, 15, 'fig4-y-tick');
  const ser = [[fig4MR160,'#888888','#111','160 K'],[fig4MR120,'#f08080','#e06060','120 K'],[fig4MR80,'#7070ff','#1020c0','80 K']];
  ser.forEach(s=>{
    s[0].forEach((v,j)=>{
      const c = mk('circle',{cx:sx(fig4H[j]),cy:sy(v),r:3.5,fill:'none',stroke:s[1],'stroke-width':1});
      
      
    });
    curve(smoothD(fig4H, s[0], sx, sy), s[2], 1.6, 'mr-fit-'+s[3].replace(' ','').toLowerCase());
  });
  label(3195,154,'160 K',12,'end','fig4-label-160k');
  label(3167,208,'120 K',12,'end','fig4-label-120k');
  label(3172,280,'80 K',12,'end','fig4-label-80k');
  label(2938,167,'GdNiC',18,'start','fig4-compound-label');
  label(2993,172,'2',11,'start','fig4-compound-subscript');
  label(3067,352,'μ₀H (T)',18,'middle','fig4-x-axis-title');
  label(2879,210,'MR',18,'middle','fig4-y-axis-title',{transform:'rotate(-90 2879 210)'});
  // inset
  const ix = lin(0,0.004,2966,3093), iy = lin(0.002,-0.1,195,283);
  const bg = mk('rect',{x:2966,y:195,width:127,height:88,fill:'#fff'});
  
  
  [[fig4InsetBrown,'#800000'],[fig4InsetGray,'#808080'],[fig4InsetBlack,'#000'],[fig4InsetTeal,'#208080'],[fig4InsetGreen,'#33cc33']].forEach(s=>{
    curve(pathD(fig4InsetX.slice(0,s[0].length), s[0], ix, iy), s[1], 2.5, 'inset-scaling-line');
  });
  frame(2966,195,3093,283,'fig4-inset-frame');
  xAxis([0,0.002,0.004], ix, 195, 283, 291, 7, 'fig4-inset-x-tick', v=>v.toFixed(3));
  yAxis(["0.00","-0.04","-0.08"], iy, 2966, 3093, 2963, 7, 'fig4-inset-y-tick');
  label(3030,307,'0.5 (μBH / kBT)²',13,'middle','fig4-inset-x-title');
  label(2953,240,'MR',13,'middle','fig4-inset-y-title',{transform:'rotate(-90 2953 240)'});
})();

// ---------- FIG 5 ----------
(function(){
  const all = [fig5MRa,fig5MRb,fig5MRc,fig5MRd,fig5MRe,fig5MRf];
  all.forEach((arr,i)=>{
    const col = i%3, row = Math.floor(i/3);
    const x0 = 3972+col*150, x1 = x0+123;
    const y0 = row? 302:123, zero = row? 312:134;
    const y1 = row? 456:278;
    const sx = lin(0,9.1,x0,x1), sy = lin(0,-0.6,zero,zero+124);
    frame(x0,y0,x1,y1,'fig5-panel-frame-'+fig5Letters[i].replace(/[()]/g,''));
    xAxis(fig5XTicks, sx, y0, y1, y1+10, 9, 'fig5-x-tick');
    yAxis(fig5YTicks.filter(t=> row===0 || parseFloat(t)>=-0.6), sy, x0, x1, x0-3, 9, 'fig5-y-tick');
    const color = i===4? '#f4a0a0' : '#ee1010';
    curve(smoothD(fig5H, arr, sx, sy), color, i===0?1.4:3, 'mr-curve-'+fig5Letters[i].replace(/[()]/g,''));
    label(x1-14, y0+22, fig5Letters[i], 11, 'middle', 'fig5-panel-label');
    label(x0+40, row? 422:258, fig5Temps[i], 12, 'middle', 'fig5-temperature-label');
    if (i>0){
      arrow(sx(4.8), sy(-0.38), sx(4.1), sy(-0.22), 'fig5-arrow-decreasing', '#666', 0.8);
      arrow(sx(5.3), sy(-0.17), sx(6.1), sy(-0.33), 'fig5-arrow-increasing', '#666', 0.8);
    } else {
      arrow(sx(7.3), sy(-0.2), sx(5.7), sy(-0.08), 'fig5-arrow', '#666', 0.8);
    }
  });
  label(3945,200,'MR',17,'middle','fig5-y-axis-title-top',{transform:'rotate(-90 3945 200)'});
  label(3945,380,'MR',17,'middle','fig5-y-axis-title-bottom',{transform:'rotate(-90 3945 380)'});
  label(4181,497,'μ₀H (T)',17,'middle','fig5-x-axis-title');
})();
</script>
</body></html>
